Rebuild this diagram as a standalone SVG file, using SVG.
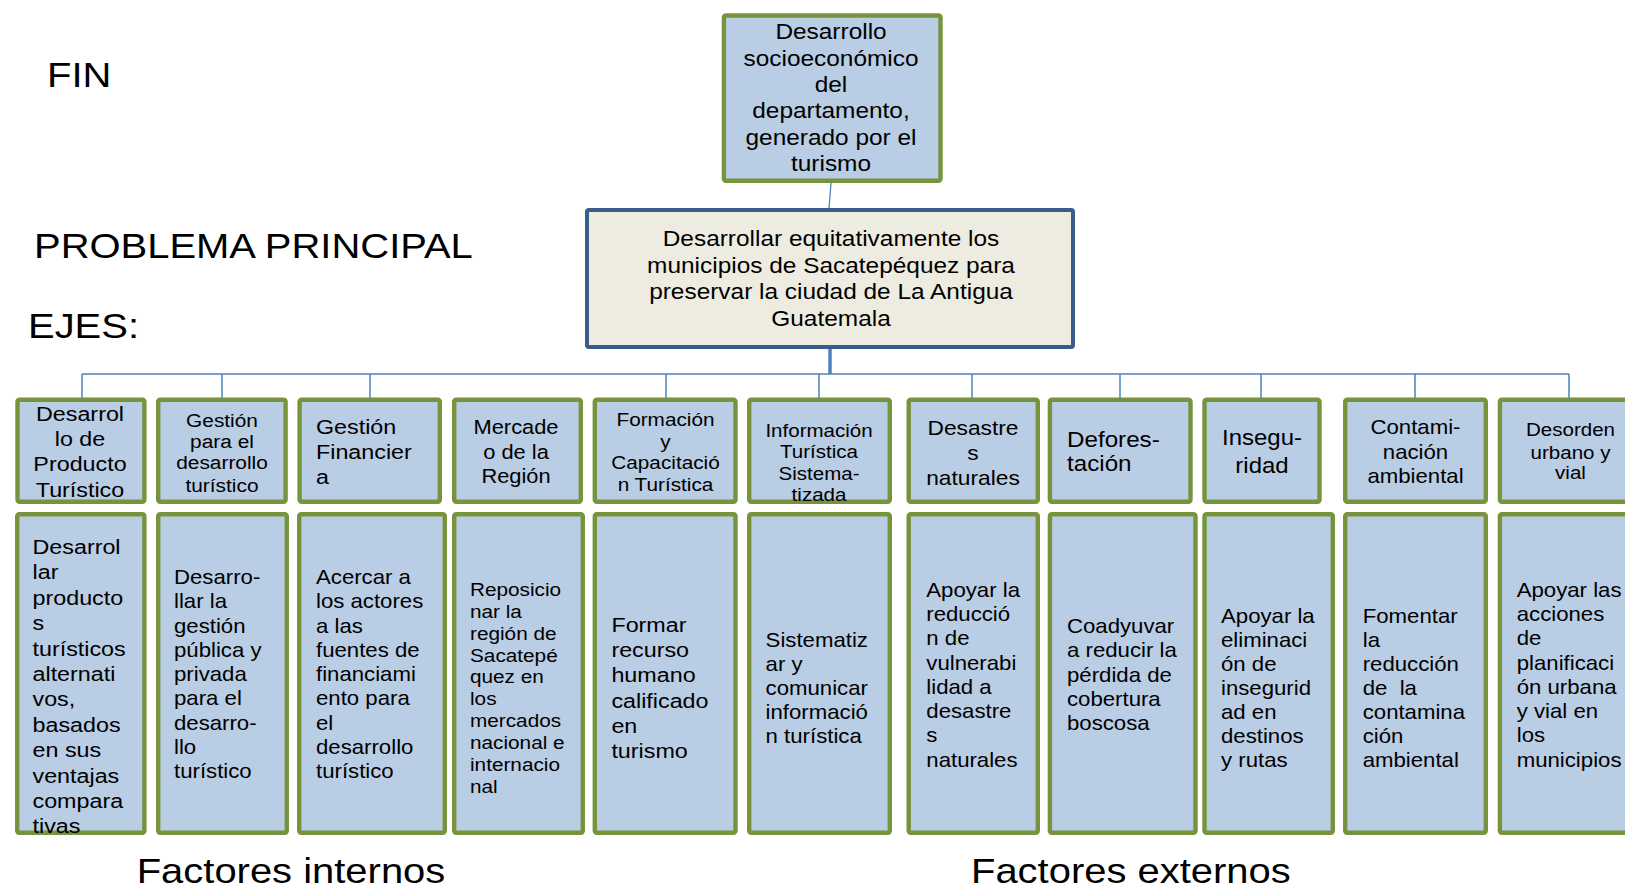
<svg xmlns="http://www.w3.org/2000/svg" width="1625" height="891" viewBox="0 0 1625 891">
<style>
.t{font-family:"Liberation Sans",Arial,sans-serif;fill:#000}
.eje{fill:#B9CDE5;stroke:#77933C;stroke-width:4.4}
.main{fill:#EEECE1;stroke:#385D8A;stroke-width:4}
.c{stroke:#4F81BD;fill:none}
</style>
<rect width="1625" height="891" fill="#fff"/>
<g id="connectors">
<line class="c" x1="831" y1="183" x2="829" y2="209" stroke-width="1.3"/>
<line class="c" x1="830" y1="348" x2="830" y2="374" stroke-width="3.5"/>
<line class="c" x1="82" y1="374" x2="1569" y2="374" stroke-width="1.5"/>
<path class="c" stroke-width="1.5" d="M82 374V398M222 374V398M370 374V398M666 374V398M819 374V398M972 374V398M1120 374V398M1261 374V398M1415 374V398M1569 374V398"/>
</g>
<g id="labels">
<text class="t" font-size="36" transform="translate(47 0) scale(1.11 1)"><tspan x="0" y="86.7">FIN</tspan></text>
<text class="t" font-size="36" transform="translate(34 0) scale(1.11 1)"><tspan x="0" y="258">PROBLEMA PRINCIPAL</tspan></text>
<text class="t" font-size="36" transform="translate(28 0) scale(1.11 1)"><tspan x="0" y="338">EJES:</tspan></text>
<text class="t" font-size="36" transform="translate(136.7 0) scale(1.11 1)"><tspan x="0" y="883">Factores internos</tspan></text>
<text class="t" font-size="36" transform="translate(971 0) scale(1.11 1)"><tspan x="0" y="883">Factores externos</tspan></text>
</g>
<g id="fin">
<rect class="eje" x="723.9" y="15.5" width="216.6" height="165.3" rx="2"/>
<text class="t" font-size="22" text-anchor="middle" transform="translate(831 0) scale(1.11 1)"><tspan x="0" y="39.5">Desarrollo</tspan><tspan x="0" y="65.8">socioeconómico</tspan><tspan x="0" y="92.1">del</tspan><tspan x="0" y="118.4">departamento,</tspan><tspan x="0" y="144.7">generado por el</tspan><tspan x="0" y="171">turismo</tspan></text>
</g>
<g id="problema">
<rect class="main" x="587" y="210" width="486" height="137" rx="2"/>
<text class="t" font-size="22" text-anchor="middle" transform="translate(831 0) scale(1.11 1)"><tspan x="0" y="246.5">Desarrollar equitativamente los</tspan><tspan x="0" y="273">municipios de Sacatepéquez para</tspan><tspan x="0" y="299.5">preservar la ciudad de La Antigua</tspan><tspan x="0" y="326">Guatemala</tspan></text>
</g>
<g id="eje1">
<rect class="eje" x="17.5" y="399.7" width="126.9" height="102.1" rx="2"/>
<text class="t" font-size="21" text-anchor="middle" transform="translate(80 0) scale(1.11 1)"><tspan x="0" y="420.7">Desarrol</tspan><tspan x="0" y="445.7">lo de</tspan><tspan x="0" y="470.7">Producto</tspan><tspan x="0" y="496.7">Turístico</tspan></text>
</g>
<g id="eje2">
<rect class="eje" x="158.2" y="399.7" width="127.4" height="102.1" rx="2"/>
<text class="t" font-size="18.8" text-anchor="middle" transform="translate(222 0) scale(1.11 1)"><tspan x="0" y="426.7">Gestión</tspan><tspan x="0" y="448.3">para el</tspan><tspan x="0" y="469.3">desarrollo</tspan><tspan x="0" y="491.7">turístico</tspan></text>
</g>
<g id="eje3">
<rect class="eje" x="299.6" y="399.7" width="140.2" height="102.1" rx="2"/>
<text class="t" font-size="21" transform="translate(316 0) scale(1.11 1)"><tspan x="0" y="434">Gestión</tspan><tspan x="0" y="459">Financier</tspan><tspan x="0" y="484">a</tspan></text>
</g>
<g id="eje4">
<rect class="eje" x="454.2" y="399.7" width="126.6" height="102.1" rx="2"/>
<text class="t" font-size="19.7" text-anchor="middle" transform="translate(516 0) scale(1.11 1)"><tspan x="0" y="434">Mercade</tspan><tspan x="0" y="459">o de la</tspan><tspan x="0" y="483.3">Región</tspan></text>
</g>
<g id="eje5">
<rect class="eje" x="594.8" y="399.7" width="140.7" height="102.1" rx="2"/>
<text class="t" font-size="18.7" text-anchor="middle" transform="translate(665.5 0) scale(1.11 1)"><tspan x="0" y="426">Formación</tspan><tspan x="0" y="448.3">y</tspan><tspan x="0" y="469.3">Capacitació</tspan><tspan x="0" y="491">n Turística</tspan></text>
</g>
<g id="eje6">
<rect class="eje" x="749.2" y="399.7" width="140.6" height="102.1" rx="2"/>
<text class="t" font-size="18.5" text-anchor="middle" transform="translate(819 0) scale(1.11 1)"><tspan x="0" y="436.7">Información</tspan><tspan x="0" y="457.7">Turística</tspan><tspan x="0" y="480">Sistema-</tspan><tspan x="0" y="500.7">tizada</tspan></text>
</g>
<g id="eje7">
<rect class="eje" x="908.7" y="399.7" width="129.1" height="102.1" rx="2"/>
<text class="t" font-size="20.5" text-anchor="middle" transform="translate(973 0) scale(1.11 1)"><tspan x="0" y="435">Desastre</tspan><tspan x="0" y="460">s</tspan><tspan x="0" y="485">naturales</tspan></text>
</g>
<g id="eje8">
<rect class="eje" x="1049.9" y="399.7" width="140.6" height="102.1" rx="2"/>
<text class="t" font-size="21.8" transform="translate(1067 0) scale(1.11 1)"><tspan x="0" y="446.7">Defores-</tspan><tspan x="0" y="470.7">tación</tspan></text>
</g>
<g id="eje9">
<rect class="eje" x="1204.5" y="399.7" width="115" height="102.1" rx="2"/>
<text class="t" font-size="21.6" text-anchor="middle" transform="translate(1262 0) scale(1.11 1)"><tspan x="0" y="445">Insegu-</tspan><tspan x="0" y="472.7">ridad</tspan></text>
</g>
<g id="eje10">
<rect class="eje" x="1345.2" y="399.7" width="140.6" height="102.1" rx="2"/>
<text class="t" font-size="20" text-anchor="middle" transform="translate(1415.5 0) scale(1.11 1)"><tspan x="0" y="434">Contami-</tspan><tspan x="0" y="459">nación</tspan><tspan x="0" y="483.3">ambiental</tspan></text>
</g>
<g id="eje11">
<rect class="eje" x="1499.9" y="399.7" width="141" height="102.1" rx="2"/>
<text class="t" font-size="18.5" text-anchor="middle" transform="translate(1570.5 0) scale(1.11 1)"><tspan x="0" y="436">Desorden</tspan><tspan x="0" y="459.3">urbano y</tspan><tspan x="0" y="479.3">vial</tspan></text>
</g>
<g id="obj1">
<rect class="eje" x="17.2" y="514.2" width="127.2" height="318.6" rx="2"/>
<text class="t" font-size="21" transform="translate(32.5 0) scale(1.11 1)"><tspan x="0" y="554">Desarrol</tspan><tspan x="0" y="579.4">lar</tspan><tspan x="0" y="604.8">producto</tspan><tspan x="0" y="630.2">s</tspan><tspan x="0" y="655.6">turísticos</tspan><tspan x="0" y="681">alternati</tspan><tspan x="0" y="706.4">vos,</tspan><tspan x="0" y="731.8">basados</tspan><tspan x="0" y="757.2">en sus</tspan><tspan x="0" y="782.6">ventajas</tspan><tspan x="0" y="808">compara</tspan><tspan x="0" y="833.4">tivas</tspan></text>
</g>
<g id="obj2">
<rect class="eje" x="158.2" y="514.2" width="128.6" height="318.6" rx="2"/>
<text class="t" font-size="20" transform="translate(174 0) scale(1.11 1)"><tspan x="0" y="584">Desarro-</tspan><tspan x="0" y="608.3">llar la</tspan><tspan x="0" y="632.6">gestión</tspan><tspan x="0" y="656.9">pública y</tspan><tspan x="0" y="681.2">privada</tspan><tspan x="0" y="705.5">para el</tspan><tspan x="0" y="729.8">desarro-</tspan><tspan x="0" y="754.1">llo</tspan><tspan x="0" y="778.4">turístico</tspan></text>
</g>
<g id="obj3">
<rect class="eje" x="299.2" y="514.2" width="145.6" height="318.6" rx="2"/>
<text class="t" font-size="20" transform="translate(316 0) scale(1.11 1)"><tspan x="0" y="584">Acercar a</tspan><tspan x="0" y="608.3">los actores</tspan><tspan x="0" y="632.6">a las</tspan><tspan x="0" y="656.9">fuentes de</tspan><tspan x="0" y="681.2">financiami</tspan><tspan x="0" y="705.5">ento para</tspan><tspan x="0" y="729.8">el</tspan><tspan x="0" y="754.1">desarrollo</tspan><tspan x="0" y="778.4">turístico</tspan></text>
</g>
<g id="obj4">
<rect class="eje" x="454.2" y="514.2" width="128.6" height="318.6" rx="2"/>
<text class="t" font-size="18.7" transform="translate(470 0) scale(1.11 1)"><tspan x="0" y="596">Reposicio</tspan><tspan x="0" y="617.9">nar la</tspan><tspan x="0" y="639.7">región de</tspan><tspan x="0" y="661.6">Sacatepé</tspan><tspan x="0" y="683.4">quez en</tspan><tspan x="0" y="705.3">los</tspan><tspan x="0" y="727.1">mercados</tspan><tspan x="0" y="749">nacional e</tspan><tspan x="0" y="770.8">internacio</tspan><tspan x="0" y="792.7">nal</tspan></text>
</g>
<g id="obj5">
<rect class="eje" x="594.8" y="514.2" width="140.7" height="318.6" rx="2"/>
<text class="t" font-size="21" transform="translate(611.4 0) scale(1.11 1)"><tspan x="0" y="631.7">Formar</tspan><tspan x="0" y="657">recurso</tspan><tspan x="0" y="682.3">humano</tspan><tspan x="0" y="707.6">calificado</tspan><tspan x="0" y="732.9">en</tspan><tspan x="0" y="758.2">turismo</tspan></text>
</g>
<g id="obj6">
<rect class="eje" x="749.2" y="514.2" width="140.6" height="318.6" rx="2"/>
<text class="t" font-size="20" transform="translate(765.6 0) scale(1.11 1)"><tspan x="0" y="646.7">Sistematiz</tspan><tspan x="0" y="670.9">ar y</tspan><tspan x="0" y="695.1">comunicar</tspan><tspan x="0" y="719.3">informació</tspan><tspan x="0" y="743.5">n turística</tspan></text>
</g>
<g id="obj7">
<rect class="eje" x="908.7" y="514.2" width="129.1" height="318.6" rx="2"/>
<text class="t" font-size="20" transform="translate(926.3 0) scale(1.11 1)"><tspan x="0" y="596.7">Apoyar la</tspan><tspan x="0" y="621">reducció</tspan><tspan x="0" y="645.3">n de</tspan><tspan x="0" y="669.6">vulnerabi</tspan><tspan x="0" y="693.9">lidad a</tspan><tspan x="0" y="718.2">desastre</tspan><tspan x="0" y="742.5">s</tspan><tspan x="0" y="766.8">naturales</tspan></text>
</g>
<g id="obj8">
<rect class="eje" x="1049.9" y="514.2" width="145.6" height="318.6" rx="2"/>
<text class="t" font-size="20" transform="translate(1067 0) scale(1.11 1)"><tspan x="0" y="633.3">Coadyuvar</tspan><tspan x="0" y="657.5">a reducir la</tspan><tspan x="0" y="681.7">pérdida de</tspan><tspan x="0" y="705.9">cobertura</tspan><tspan x="0" y="730.1">boscosa</tspan></text>
</g>
<g id="obj9">
<rect class="eje" x="1204.5" y="514.2" width="128.3" height="318.6" rx="2"/>
<text class="t" font-size="20" transform="translate(1221 0) scale(1.11 1)"><tspan x="0" y="622.7">Apoyar la</tspan><tspan x="0" y="646.8">eliminaci</tspan><tspan x="0" y="670.9">ón de</tspan><tspan x="0" y="695">insegurid</tspan><tspan x="0" y="719.1">ad en</tspan><tspan x="0" y="743.2">destinos</tspan><tspan x="0" y="767.3">y rutas</tspan></text>
</g>
<g id="obj10">
<rect class="eje" x="1345.2" y="514.2" width="140.6" height="318.6" rx="2"/>
<text class="t" font-size="20" transform="translate(1362.7 0) scale(1.11 1)"><tspan x="0" y="622.7">Fomentar</tspan><tspan x="0" y="646.8">la</tspan><tspan x="0" y="670.9">reducción</tspan><tspan x="0" y="695">de&#160; la</tspan><tspan x="0" y="719.1">contamina</tspan><tspan x="0" y="743.2">ción</tspan><tspan x="0" y="767.3">ambiental</tspan></text>
</g>
<g id="obj11">
<rect class="eje" x="1499.9" y="514.2" width="141" height="318.6" rx="2"/>
<text class="t" font-size="20" transform="translate(1516.7 0) scale(1.11 1)"><tspan x="0" y="596.7">Apoyar las</tspan><tspan x="0" y="621">acciones</tspan><tspan x="0" y="645.3">de</tspan><tspan x="0" y="669.6">planificaci</tspan><tspan x="0" y="693.9">ón urbana</tspan><tspan x="0" y="718.2">y vial en</tspan><tspan x="0" y="742.5">los</tspan><tspan x="0" y="766.8">municipios</tspan></text>
</g>
</svg>
